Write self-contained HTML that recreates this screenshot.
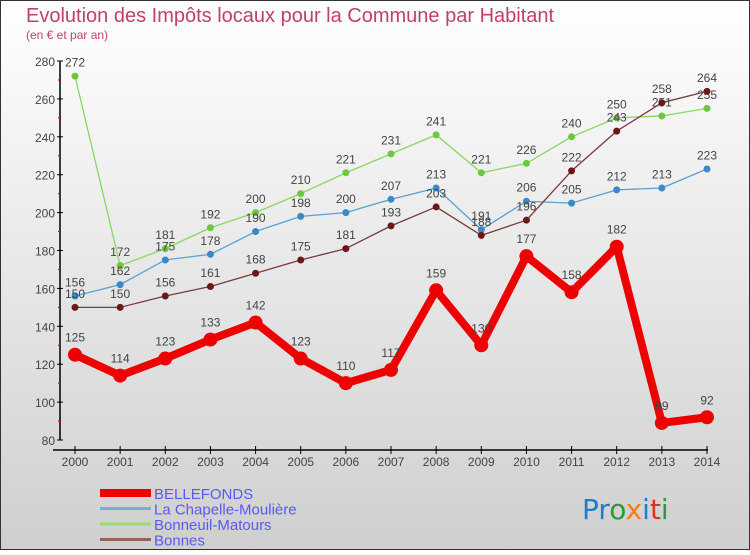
<!DOCTYPE html>
<html><head><meta charset="utf-8"><style>
html,body{margin:0;padding:0;}
body{width:750px;height:550px;overflow:hidden;font-family:"Liberation Sans",sans-serif;}
</style></head><body>
<svg id="chart" width="750" height="550" xmlns="http://www.w3.org/2000/svg">
<defs><linearGradient id="bg" x1="0" y1="0" x2="0" y2="1"><stop offset="0" stop-color="#ffffff"/><stop offset="1" stop-color="#cfcfcf"/></linearGradient></defs>
<rect x="0.5" y="0.5" width="749" height="549" fill="url(#bg)" stroke="#333"/>
<text x="26" y="22" font-size="20" fill="#c0406a">Evolution des Impôts locaux pour la Commune par Habitant</text>
<text x="26" y="39" font-size="12" fill="#c0406a">(en € et par an)</text>
<g id="axes"></g><g id="series"></g><g id="legend"></g>
<text x="582" y="519" font-size="28" font-family="'DejaVu Sans',sans-serif"><tspan fill="#1a7fd0">Pr</tspan><tspan fill="#2a9a3a">o</tspan><tspan fill="#f08010">x</tspan><tspan fill="#1a7fd0">i</tspan><tspan fill="#e03020">t</tspan><tspan fill="#2a9a3a">i</tspan></text>
</svg>
<script>
const years=[2000,2001,2002,2003,2004,2005,2006,2007,2008,2009,2010,2011,2012,2013,2014];
const bellefonds=[125,114,123,133,142,123,110,117,159,130,177,158,182,89,92];
const chapelle=[156,162,175,178,190,198,200,207,213,191,206,205,212,213,223];
const bonneuil=[272,172,181,192,200,210,221,231,241,221,226,240,250,251,255];
const bonnes=[150,150,156,161,168,175,181,193,203,188,196,222,243,258,264];
const yTicks=[80,100,120,140,160,180,200,220,240,260,280];
const seriesNames=["BELLEFONDS","La Chapelle-Moulière","Bonneuil-Matours","Bonnes"];
const NS="http://www.w3.org/2000/svg";
function x(i){return 75+i*(707-75)/(years.length-1);}
function y(v){return 440-(v-80)*(379/200);}
function mk(tag,attrs,parent){const e=document.createElementNS(NS,tag);for(const k in attrs)e.setAttribute(k,attrs[k]);parent.appendChild(e);return e;}
const axes=document.getElementById('axes');
let ya=mk('line',{x1:60,y1:y(280),x2:60,y2:y(80),stroke:'#000','stroke-width':1.5},axes);


yTicks.forEach(v=>{
 let t=mk('line',{x1:57,y1:y(v),x2:63,y2:y(v),stroke:'#000'},axes);
 
 
 let l=mk('text',{x:55,y:y(v)+5,'font-size':12,fill:'#444','text-anchor':'end'},axes);
 l.textContent=v;
 
 
 if(v<280){let m=mk('line',{x1:58,y1:y(v+10),x2:61,y2:y(v+10),stroke:'#c00'},axes);
 
 }
});
let xa=mk('line',{x1:53,y1:450,x2:708,y2:450,stroke:'#000','stroke-width':1.5},axes);


years.forEach((yr,i)=>{
 let t=mk('line',{x1:x(i),y1:446,x2:x(i),y2:454,stroke:'#000'},axes);
 
 
 let l=mk('text',{x:x(i),y:466,'font-size':12,fill:'#444','text-anchor':'middle'},axes);
 l.textContent=yr;
 
 
});
const ser=document.getElementById('series');
const defs=[[bonneuil,'#88d860','#6cc83c',1.3,3.5,'bonneuil'],[chapelle,'#5aa0d0','#3a8ac8',1.3,3.5,'chapelle'],[bonnes,'#7a3a3a','#6a1818',1.3,3.5,'bonnes'],[bellefonds,'#ee0000','#ee0000',8,7,'bellefonds']];
defs.forEach(([d,lc,pc,w,r,n])=>{
 let p=mk('polyline',{points:d.map((v,i)=>x(i)+','+y(v)).join(' '),fill:'none',stroke:lc,'stroke-width':w,'stroke-linejoin':'round'},ser);
 
 
 d.forEach((v,i)=>{
  let c=mk('circle',{cx:x(i),cy:y(v),r:r,fill:pc},ser);
  
  
  let t=mk('text',{x:x(i),y:y(v)-(r+6),'font-size':12,fill:'#444','text-anchor':'middle'},ser);
  t.textContent=v;
  
  
 });
});
const leg=document.getElementById('legend');
const lcol=['#ee0000','#7aaed0','#98dc70','#9a6060'],lw=[8,3,3,3];
seriesNames.forEach((s,i)=>{
 const yy=493+i*15.5;
 let l=mk('line',{x1:100,y1:yy,x2:151,y2:yy,stroke:lcol[i],'stroke-width':lw[i]},leg);
 
 
 let t=mk('text',{x:154,y:yy+6,'font-size':15,fill:'#5a5af0'},leg);
 t.textContent=s;
 
 
});
</script>
</body></html>
